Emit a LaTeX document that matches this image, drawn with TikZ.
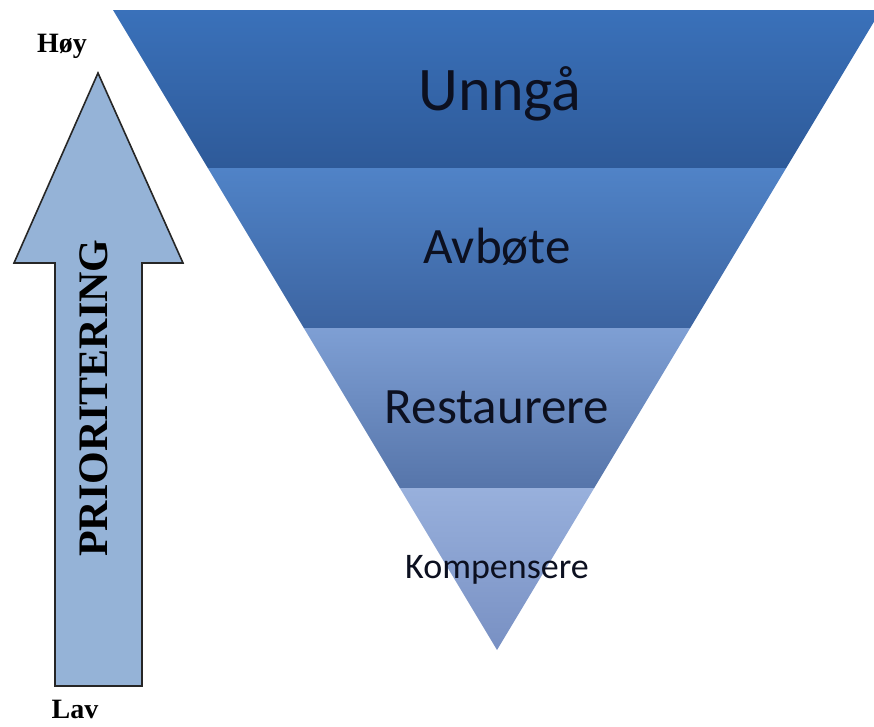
\documentclass[tikz,border=0pt]{standalone}
\usepackage{fontspec}
\setmainfont{Liberation Serif}
\newfontfamily\bandfont{Carlito}
\definecolor{b1t}{HTML}{3A71BA}
\definecolor{b1b}{HTML}{2E5A99}
\definecolor{b2t}{HTML}{5083C7}
\definecolor{b2b}{HTML}{3C64A1}
\definecolor{b3t}{HTML}{7E9FD4}
\definecolor{b3b}{HTML}{5675AA}
\definecolor{b4t}{HTML}{98B0DC}
\definecolor{b4b}{HTML}{7890C3}
\definecolor{arrowfill}{HTML}{95B3D7}
\definecolor{txt}{HTML}{0C1020}
\tikzset{
  bandlabel/.style={anchor=base, text=txt, font=\bandfont, inner sep=0pt},
  sidelabel/.style={anchor=base, text=black, font=\bfseries\fontsize{28}{30}\selectfont, inner sep=0pt},
  prioarrow/.style={fill=arrowfill, draw=black!85, line width=1.6pt, line join=miter}
}
\begin{document}
\begin{tikzpicture}[x=1pt,y=-1pt]
\useasboundingbox (0,0) rectangle (874,726);
\clip (0,0) rectangle (874,726);
\fill[white] (0,0) rectangle (874,726);
% bands of the inverted triangle
\shade[top color=b1t, bottom color=b1b] (113,10) -- (881,10) -- (786.2,168) -- (207.8,168) -- cycle;
\shade[top color=b2t, bottom color=b2b] (207.8,168) -- (786.2,168) -- (690.2,328) -- (303.8,328) -- cycle;
\shade[top color=b3t, bottom color=b3b] (303.8,328) -- (690.2,328) -- (594.2,488) -- (399.8,488) -- cycle;
\shade[top color=b4t, bottom color=b4b] (399.8,488) -- (594.2,488) -- (497,650) -- cycle;
% band labels
\node[bandlabel, font=\bandfont\fontsize{62}{64}\selectfont] (unnga) at (500,110) {Unngå};
\node[bandlabel, font=\bandfont\fontsize{51}{53}\selectfont] (avbote) at (497,263) {Avbøte};
\node[bandlabel, font=\bandfont\fontsize{51}{53}\selectfont] (restaurere) at (497,423) {Restaurere};
\node[bandlabel, font=\bandfont\fontsize{36}{38}\selectfont] (kompensere) at (497,578) {Kompensere};
% priority arrow
\draw[prioarrow] (98,73) -- (183,263) -- (142,263) -- (142,686) -- (55,686) -- (55,263) -- (14,263) -- cycle;
\node[rotate=90, font=\bfseries\fontsize{42}{44}\selectfont, inner sep=0pt] (prio) at (94,398) {PRIORITERING};
% side labels
\node[sidelabel] (hoy) at (62,52) {Høy};
\node[sidelabel] (lav) at (75,718) {Lav};
\end{tikzpicture}
\end{document}
